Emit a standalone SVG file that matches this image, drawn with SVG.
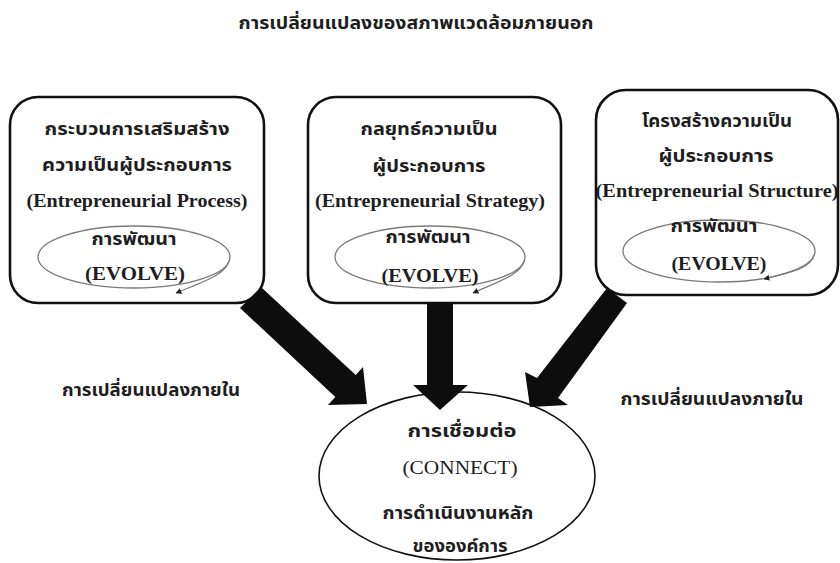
<svg xmlns="http://www.w3.org/2000/svg" width="840" height="563" viewBox="0 0 840 563">
<defs>
<style>
.th{font-family:"Noto Sans Thai","Noto Serif Thai","Loma","Garuda","DejaVu Sans",sans-serif;font-weight:bold;font-size:17.5px;fill:#1e1e1e;text-anchor:middle}
.en{font-family:"Liberation Serif","Times New Roman",serif;font-weight:bold;font-size:18px;fill:#1e1e1e;text-anchor:middle}
.enr{font-family:"Liberation Serif","Times New Roman",serif;font-size:19px;fill:#1e1e1e;text-anchor:middle}
.box{fill:#fff;stroke:#111;stroke-width:2.6}
.evo{fill:none;stroke:#7a7a7a;stroke-width:1.3}
.tail{fill:none;stroke:#7a7a7a;stroke-width:1.2;marker-end:url(#tip)}
.big{fill:#fff;stroke:#111;stroke-width:1.6}
.arr{fill:#0d0d0d}
</style>
<marker id="tip" viewBox="0 0 10 10" refX="9" refY="5" markerWidth="6" markerHeight="6" markerUnits="userSpaceOnUse" orient="auto">
<path d="M0,0 L10,5 L0,10 z" fill="#222"/>
</marker>
</defs>
<rect width="840" height="563" fill="#fff"/>

<g id="title">
<text class="th" x="416" y="29" textLength="355" lengthAdjust="spacingAndGlyphs">การเปลี่ยนแปลงของสภาพแวดล้อมภายนอก</text>
</g>

<g id="node-process">
<rect class="box" x="10" y="97" width="254" height="206" rx="28"/>
<text class="th" x="137" y="135" textLength="185" lengthAdjust="spacingAndGlyphs">กระบวนการเสริมสร้าง</text>
<text class="th" x="137" y="171" textLength="190" lengthAdjust="spacingAndGlyphs">ความเป็นผู้ประกอบการ</text>
<text class="en" x="137" y="207" textLength="221" lengthAdjust="spacingAndGlyphs">(Entrepreneurial Process)</text>
<ellipse class="evo" cx="134" cy="257" rx="96" ry="31"/>
<text class="th" x="134" y="245" textLength="85" lengthAdjust="spacingAndGlyphs">การพัฒนา</text>
<text class="en" x="135" y="280" textLength="100" lengthAdjust="spacingAndGlyphs">(EVOLVE)</text>
<path class="tail" d="M229,261 C226,274 205,281 176,293"/>
</g>

<g id="node-strategy">
<rect class="box" x="308" y="97" width="253" height="206" rx="28"/>
<text class="th" x="429" y="135" textLength="137" lengthAdjust="spacingAndGlyphs">กลยุทธ์ความเป็น</text>
<text class="th" x="429" y="172" textLength="113" lengthAdjust="spacingAndGlyphs">ผู้ประกอบการ</text>
<text class="en" x="430" y="207" textLength="230" lengthAdjust="spacingAndGlyphs">(Entrepreneurial Strategy)</text>
<ellipse class="evo" cx="430" cy="257" rx="95" ry="31"/>
<text class="th" x="428" y="243" textLength="85" lengthAdjust="spacingAndGlyphs">การพัฒนา</text>
<text class="en" x="430" y="282" textLength="97" lengthAdjust="spacingAndGlyphs">(EVOLVE)</text>
<path class="tail" d="M524,261 C521,274 500,281 473,293"/>
</g>

<g id="node-structure">
<rect class="box" x="596" y="90" width="242" height="205" rx="30"/>
<text class="th" x="717" y="127" textLength="150" lengthAdjust="spacingAndGlyphs">โครงสร้างความเป็น</text>
<text class="th" x="716" y="162" textLength="115" lengthAdjust="spacingAndGlyphs">ผู้ประกอบการ</text>
<text class="en" x="717" y="197" textLength="243" lengthAdjust="spacingAndGlyphs">(Entrepreneurial Structure)</text>
<ellipse class="evo" cx="719" cy="251" rx="96" ry="31"/>
<text class="th" x="714" y="232" textLength="87" lengthAdjust="spacingAndGlyphs">การพัฒนา</text>
<text class="en" x="719" y="270" textLength="95" lengthAdjust="spacingAndGlyphs">(EVOLVE)</text>
<path class="tail" d="M814,255 C811,268 792,272 764,279"/>
</g>

<g id="node-connect">
<ellipse class="big" cx="457" cy="476" rx="138" ry="84"/>
<text class="th" x="462" y="437" textLength="109" lengthAdjust="spacingAndGlyphs">การเชื่อมต่อ</text>
<text class="enr" x="460" y="474" textLength="115" lengthAdjust="spacingAndGlyphs">(CONNECT)</text>
<text class="th" x="458" y="519" textLength="151" lengthAdjust="spacingAndGlyphs">การดำเนินงานหลัก</text>
<text class="th" x="460" y="552" textLength="95" lengthAdjust="spacingAndGlyphs">ขององค์การ</text>
</g>

<g id="label-internal-left">
<text class="th" x="151" y="396" textLength="178" lengthAdjust="spacingAndGlyphs">การเปลี่ยนแปลงภายใน</text>
</g>
<g id="label-internal-right">
<text class="th" x="712" y="405" textLength="183" lengthAdjust="spacingAndGlyphs">การเปลี่ยนแปลงภายใน</text>
</g>

<g id="connectors">
<polygon class="arr" points="240,308 261,287 355.7,375 363,367 367,404 328,405 335.3,397"/>
<polygon class="arr" points="427,302 453,302 453,385 468,385 440,410 413,385 427,385"/>
<polygon class="arr" points="607,288 627,303 558,398 568,405 530,407 525,372 537,378"/>
</g>
</svg>
